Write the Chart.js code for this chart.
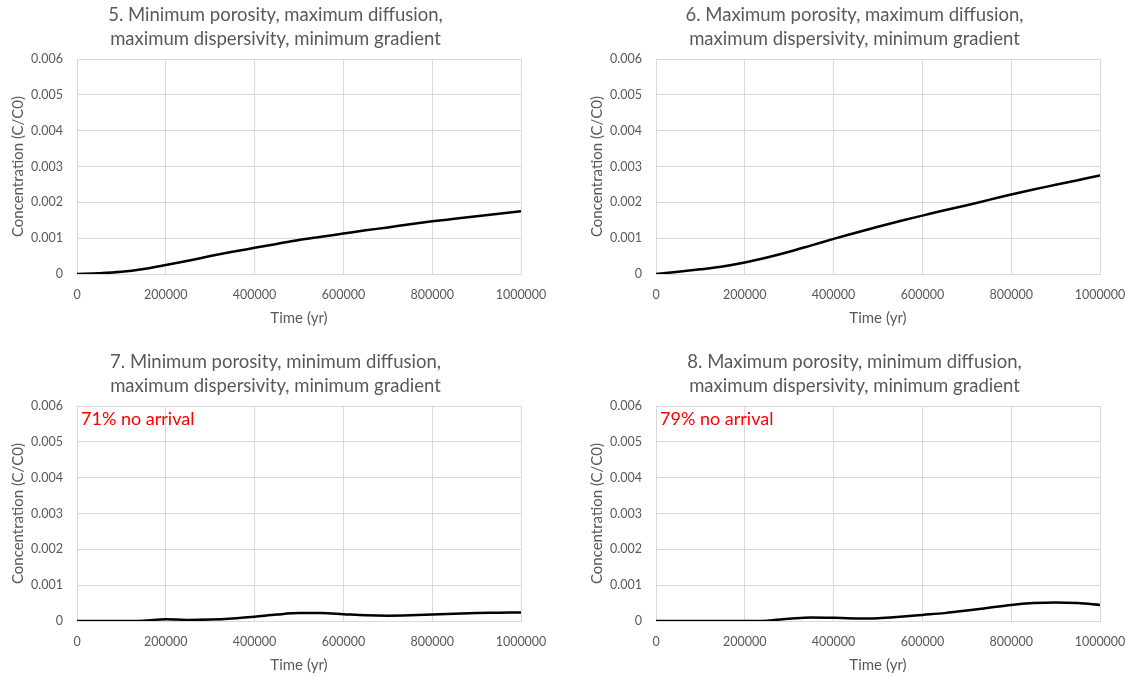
<!DOCTYPE html>
<html>
<head>
<meta charset="utf-8">
<script src="https://cdn.jsdelivr.net/npm/chart.js@4.4.0/dist/chart.umd.min.js"></script>
<style>
  body { margin: 0; background: #fff; overflow: hidden; }
  .panel { position: absolute; width: 565px; height: 340px; }
</style>
</head>
<body>
<div class="panel" style="left:0;top:0"><canvas id="chart5" width="565" height="340"></canvas></div>
<div class="panel" style="left:579px;top:0"><canvas id="chart6" width="565" height="340"></canvas></div>
<div class="panel" style="left:0;top:347px"><canvas id="chart7" width="565" height="340"></canvas></div>
<div class="panel" style="left:579px;top:347px"><canvas id="chart8" width="565" height="340"></canvas></div>
<script>
// time axis (yr), shared by all four runs
const times = [0, 50000, 100000, 150000, 200000, 250000, 300000, 350000, 400000, 450000, 500000,
               550000, 600000, 650000, 700000, 750000, 800000, 850000, 900000, 950000, 1000000];

// concentration C/C0
const run5 = [0, 0.00002, 0.00006, 0.00014, 0.00025, 0.00037, 0.0005, 0.00062, 0.00073, 0.00084, 0.00095,
              0.00104, 0.00113, 0.00122, 0.0013, 0.00139, 0.00147, 0.00154, 0.00161, 0.00168, 0.00175];
const run6 = [0, 0.00006, 0.00013, 0.00021, 0.00032, 0.00046, 0.00062, 0.0008, 0.00098, 0.00115, 0.00132,
              0.00148, 0.00163, 0.00178, 0.00192, 0.00207, 0.00222, 0.00236, 0.00249, 0.00262, 0.00275];
const run7 = [0, 0, 0, 0.00001, 0.00005, 0.00003, 0.00004, 0.00007, 0.00012, 0.00018, 0.00022,
              0.00022, 0.00019, 0.00016, 0.00015, 0.00016, 0.00018, 0.0002, 0.00022, 0.00023, 0.00024];
const run8 = [0, 0, 0, 0, 0, 0.00001, 0.00006, 0.0001, 0.00009, 0.00007, 0.00008,
              0.00012, 0.00017, 0.00022, 0.00029, 0.00037, 0.00045, 0.0005, 0.00052, 0.0005, 0.00045];

const xTicks = [0, 200000, 400000, 600000, 800000, 1000000];
const yTicks = [0, 0.001, 0.002, 0.003, 0.004, 0.005, 0.006];

const FONT = 'Lato, Carlito, Calibri, sans-serif';
const GREY = '#595959';

// red note in the upper left corner of the plot
const noteLabel = {
    id: 'noteLabel',
    afterDraw(chart, args, opts) {
        if (!opts.text) return;
        const { ctx, chartArea } = chart;
        ctx.save();
        ctx.font = '18px ' + FONT;
        ctx.fillStyle = '#ff0000';
        ctx.textBaseline = 'alphabetic';
        ctx.fillText(opts.text, chartArea.left + 4, chartArea.top + 19);
        ctx.restore();
    }
};

function makeChart(id, title, values, note) {
    const ctx = document.getElementById(id).getContext('2d');
    new Chart(ctx, {
        type: 'line',
        data: {
            datasets: [{
                data: times.map((t, i) => ({ x: t, y: values[i] })),
                borderColor: '#000000',
                borderWidth: 2.5,
                pointRadius: 0,
                cubicInterpolationMode: 'monotone',
                fill: false
            }]
        },
        options: {
            responsive: false,
            animation: false,
            layout: { padding: { left: 0, right: 14, top: 0, bottom: 0 } },
            scales: {
                x: {
                    type: 'linear',
                    min: 0,
                    max: 1000000,
                    afterBuildTicks: axis => { axis.ticks = xTicks.map(v => ({ value: v })); },
                    afterFit: axis => { axis.height = 66; axis.paddingRight = 44; },
                    grid: { color: '#d9d9d9', drawTicks: false },
                    border: { color: '#d9d9d9' },
                    ticks: {
                        color: GREY,
                        font: { family: FONT, size: 12.5 },
                        padding: 13,
                        maxRotation: 0,
                        callback: v => String(v)
                    },
                    title: {
                        display: true,
                        text: 'Time (yr)',
                        color: GREY,
                        font: { family: FONT, size: 15 },
                        padding: { top: 0, bottom: 13 }
                    }
                },
                y: {
                    min: 0,
                    max: 0.006,
                    afterBuildTicks: axis => { axis.ticks = yTicks.map(v => ({ value: v })); },
                    afterFit: axis => { axis.width = 77; },
                    grid: { color: '#d9d9d9', drawTicks: false },
                    border: { color: '#d9d9d9' },
                    ticks: {
                        color: GREY,
                        font: { family: FONT, size: 12.5 },
                        padding: 14,
                        callback: v => v === 0 ? '0' : v.toFixed(3)
                    },
                    title: {
                        display: true,
                        text: 'Concentration (C/C0)',
                        color: GREY,
                        font: { family: FONT, size: 15 },
                        padding: { top: 9, bottom: 0 }
                    }
                }
            },
            plugins: {
                legend: { display: false },
                tooltip: { enabled: false },
                title: {
                    display: true,
                    text: title,
                    color: GREY,
                    font: { family: FONT, size: 18.5, weight: 'normal', lineHeight: 1.3 },
                    padding: { top: 3, bottom: 8 }
                },
                noteLabel: { text: note }
            }
        },
        plugins: [noteLabel]
    });
}

makeChart('chart5', ['5. Minimum porosity, maximum diffusion,', 'maximum dispersivity, minimum gradient'], run5, '');
makeChart('chart6', ['6. Maximum porosity, maximum diffusion,', 'maximum dispersivity, minimum gradient'], run6, '');
makeChart('chart7', ['7. Minimum porosity, minimum diffusion,', 'maximum dispersivity, minimum gradient'], run7, '71% no arrival');
makeChart('chart8', ['8. Maximum porosity, minimum diffusion,', 'maximum dispersivity, minimum gradient'], run8, '79% no arrival');
</script>
</body>
</html>
